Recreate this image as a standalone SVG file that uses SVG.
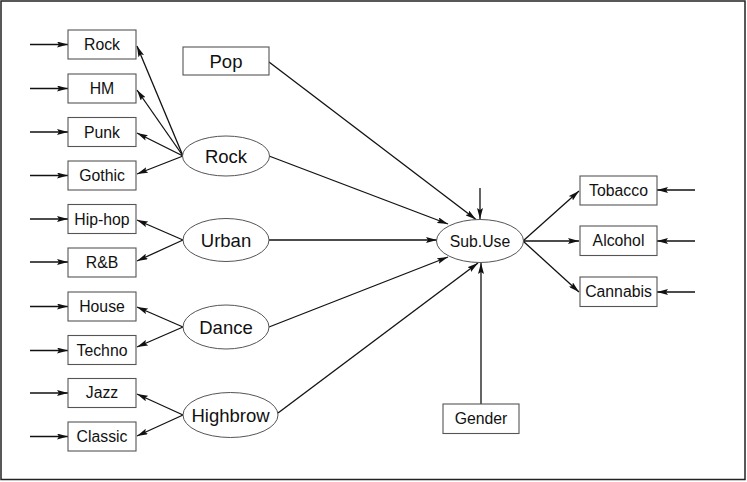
<svg xmlns="http://www.w3.org/2000/svg" width="747" height="482" viewBox="0 0 747 482">
<style>
.box{fill:#fff;stroke:#555;stroke-width:1.1}
.ell{fill:#fff;stroke:#555;stroke-width:1}
.t{font-family:"Liberation Sans",Arial,sans-serif;font-size:15.8px;fill:#111;text-anchor:middle}
.L{font-size:18.5px}
.c line{stroke:#111;stroke-width:1.3;marker-end:url(#a)}
</style>
<defs>
<marker id="a" viewBox="0 0 11 6" refX="11" refY="3" markerWidth="11" markerHeight="6" orient="auto" markerUnits="userSpaceOnUse">
<path d="M0,0 L11,3 L0,6 L2,3 z" fill="#111"/>
</marker>
</defs>
<rect x="0" y="0" width="747" height="482" fill="#fff"/>
<rect x="1" y="1" width="744" height="478.5" fill="none" stroke="#222" stroke-width="1.5"/>
<g class="c">
<line x1="30" y1="44.5" x2="68" y2="44.5"/>
<line x1="30" y1="88.5" x2="68" y2="88.5"/>
<line x1="30" y1="132" x2="68" y2="132"/>
<line x1="30" y1="175.5" x2="68" y2="175.5"/>
<line x1="30" y1="219" x2="68" y2="219"/>
<line x1="30" y1="262" x2="68" y2="262"/>
<line x1="30" y1="306.5" x2="68" y2="306.5"/>
<line x1="30" y1="350.5" x2="68" y2="350.5"/>
<line x1="30" y1="393" x2="68" y2="393"/>
<line x1="30" y1="436.5" x2="68" y2="436.5"/>
<line x1="183" y1="156" x2="137" y2="46"/>
<line x1="183" y1="156" x2="137" y2="90"/>
<line x1="183" y1="156" x2="137" y2="133"/>
<line x1="183" y1="156" x2="137" y2="174"/>
<line x1="183" y1="240" x2="137" y2="220"/>
<line x1="183" y1="240" x2="137" y2="261"/>
<line x1="183" y1="327" x2="137" y2="307"/>
<line x1="183" y1="327" x2="137" y2="347"/>
<line x1="183" y1="415" x2="137" y2="394"/>
<line x1="183" y1="415" x2="137" y2="436"/>
<line x1="269" y1="62" x2="476" y2="219.5"/>
<line x1="269" y1="156" x2="448" y2="224"/>
<line x1="269" y1="240" x2="437" y2="240"/>
<line x1="269" y1="327" x2="448" y2="257"/>
<line x1="278" y1="413" x2="478" y2="263"/>
<line x1="480" y1="188" x2="480" y2="219"/>
<line x1="481" y1="404" x2="481" y2="263"/>
<line x1="523" y1="241" x2="579" y2="191"/>
<line x1="523" y1="241" x2="579" y2="241"/>
<line x1="523" y1="241" x2="579" y2="292"/>
<line x1="695" y1="190" x2="657" y2="190"/>
<line x1="695" y1="241" x2="657" y2="241"/>
<line x1="695" y1="292" x2="657" y2="292"/>
</g>
<g id="n-rock-i"><rect class="box" x="68" y="30" width="68" height="29"/><text class="t" x="102" y="50">Rock</text></g>
<g id="n-hm"><rect class="box" x="68" y="74" width="68" height="29"/><text class="t" x="102" y="94">HM</text></g>
<g id="n-punk"><rect class="box" x="68" y="117.5" width="68" height="29"/><text class="t" x="102" y="137.5">Punk</text></g>
<g id="n-gothic"><rect class="box" x="68" y="161" width="68" height="29"/><text class="t" x="102" y="181">Gothic</text></g>
<g id="n-hiphop"><rect class="box" x="68" y="204.5" width="68" height="29"/><text class="t" x="102" y="224.5">Hip-hop</text></g>
<g id="n-rnb"><rect class="box" x="68" y="248" width="68" height="29"/><text class="t" x="102" y="268">R&amp;B</text></g>
<g id="n-house"><rect class="box" x="68" y="292" width="68" height="29"/><text class="t" x="102" y="312">House</text></g>
<g id="n-techno"><rect class="box" x="68" y="335.5" width="68" height="29"/><text class="t" x="102" y="355.5">Techno</text></g>
<g id="n-jazz"><rect class="box" x="68" y="378.5" width="68" height="29"/><text class="t" x="102" y="398">Jazz</text></g>
<g id="n-classic"><rect class="box" x="68" y="422" width="68" height="29"/><text class="t" x="102" y="442">Classic</text></g>
<g id="n-pop"><rect class="box" x="183" y="47" width="86" height="28"/><text class="t L" x="226" y="68">Pop</text></g>
<g id="n-rock"><ellipse class="ell" cx="226" cy="156" rx="43.5" ry="20"/><text class="t L" x="226" y="162.5">Rock</text></g>
<g id="n-urban"><ellipse class="ell" cx="226" cy="240" rx="43" ry="21.5"/><text class="t L" x="226" y="246.5">Urban</text></g>
<g id="n-dance"><ellipse class="ell" cx="226" cy="327" rx="43" ry="22"/><text class="t L" x="226" y="333.5">Dance</text></g>
<g id="n-highbrow"><ellipse class="ell" cx="230.5" cy="415" rx="47.5" ry="22.5"/><text class="t L" x="230.5" y="421.5">Highbrow</text></g>
<g id="n-subuse"><ellipse class="ell" cx="480" cy="241" rx="43.5" ry="21.5"/><text class="t" x="480" y="246.5">Sub.Use</text></g>
<g id="n-tobacco"><rect class="box" x="580" y="176" width="77" height="29"/><text class="t" x="618.5" y="196">Tobacco</text></g>
<g id="n-alcohol"><rect class="box" x="580" y="226" width="77" height="29.5"/><text class="t" x="618.5" y="246">Alcohol</text></g>
<g id="n-cannabis"><rect class="box" x="580" y="277" width="77" height="29.5"/><text class="t" x="618.5" y="297">Cannabis</text></g>
<g id="n-gender"><rect class="box" x="443" y="404" width="76" height="29.5"/><text class="t" x="481" y="424">Gender</text></g>
</svg>
